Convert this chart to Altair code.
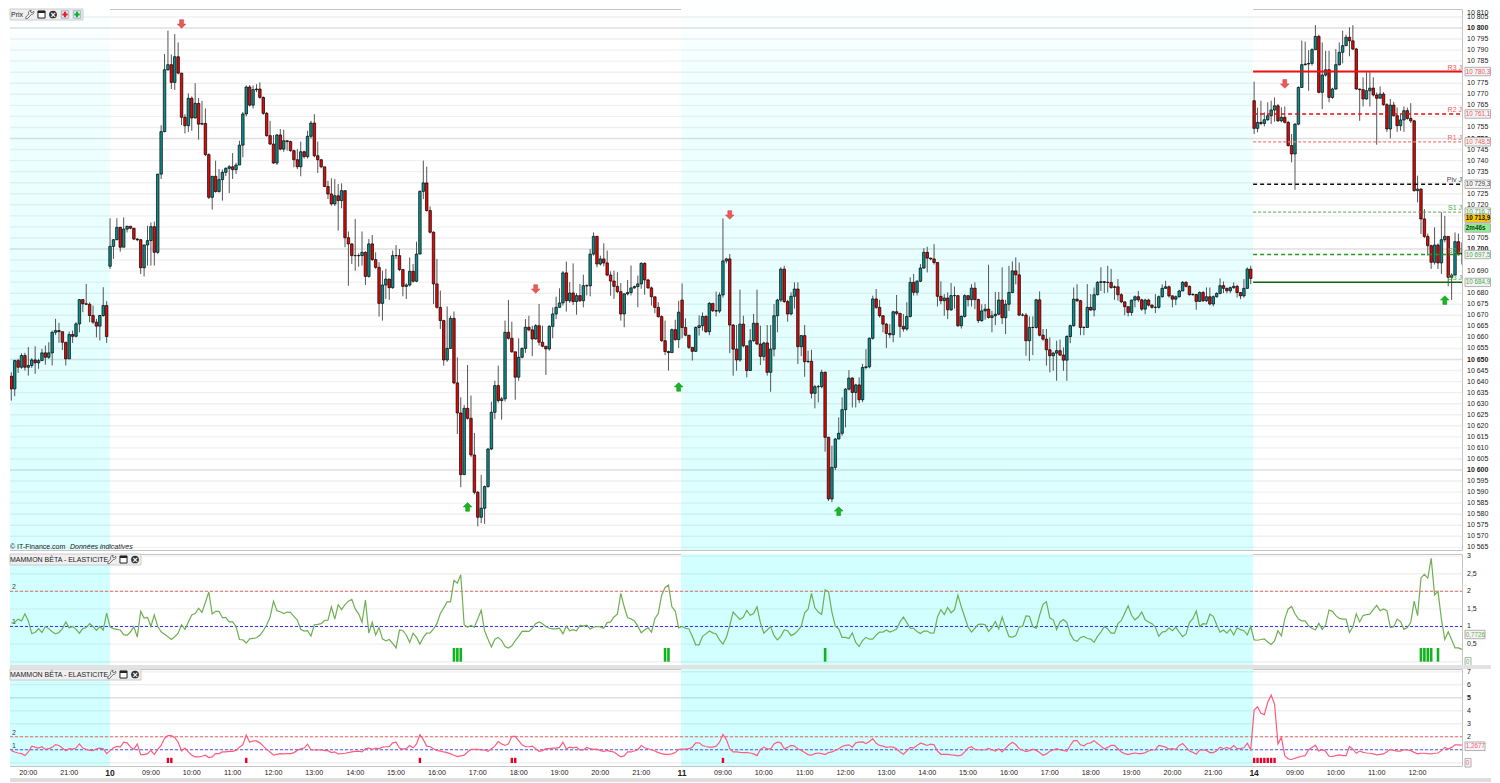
import altair as alt
import pandas as pd

closes = [
10629.9,10642.4,10636.7,10649.5,10646.5,10651.8,10646.5,10647.3,10649.8,10648.5,
10649.5,10653,10651,10653,10662.3,10663.1,10662.6,10657.8,10650.3,10661.3,
10660.5,10666.1,10677.1,10675.2,10675,10669.9,10666.9,10665.1,10669.9,10674.4,
10660.4,10701.2,10704.2,10709.8,10700.8,10709,10710.3,10709.4,10704.5,10704.2,
10691.5,10701.8,10703.8,10710.1,10698.5,10733.9,10753.1,10781.1,10783.4,10775.4,
10787,10779.6,10759.6,10755.8,10768.2,10759.3,10765.9,10756.5,10756.8,10742.7,
10723.4,10732.9,10726,10731.4,10734.7,10736.5,10737.2,10735.9,10738,10747,
10761.1,10773.3,10765.1,10772.1,10772.4,10768.6,10761.4,10751.3,10747.5,10738.9,
10751.6,10745.2,10749,10748.6,10744.5,10740.4,10737.2,10744,10741.8,10751,
10757,10742.2,10740.4,10737.2,10728.3,10724.9,10720.4,10724.1,10721.9,10726.4,
10705.1,10702.3,10697,10697,10697,10698.5,10687.6,10702.3,10695.2,10691.7,
10675.4,10683.7,10686.4,10682.5,10697,10697,10690.7,10683.1,10683.7,10689.9,
10685.4,10697.7,10726.1,10729.9,10717.4,10707.6,10684.2,10673.6,10667.6,10649.8,
10655,10668.6,10639.4,10625.8,10597.9,10627.9,10623.4,10606.8,10589.9,10578.6,
10582.7,10592.5,10609.5,10626.1,10638.2,10631.4,10632.2,10662.3,10659.6,10653.5,
10642,10651,10655,10664.6,10663.4,10659.3,10665.3,10657.8,10656,10654.8,
10665,10670.6,10673.6,10675.6,10689.2,10676.6,10680.1,10676.2,10678.9,10676.6,
10683.4,10683.3,10697.7,10705.7,10693.2,10695.5,10693.7,10688.2,10685.5,10683.1,
10680.7,10670.6,10679.7,10680.3,10682.4,10683,10684.2,10693.5,10686,10682.4,
10678.4,10673.6,10669.4,10658.5,10653.6,10653.1,10663.5,10659,10671.4,10664.5,
10661,10655.5,10653.7,10664.5,10665.3,10669.5,10662.6,10675.4,10672.1,10671.9,
10679.2,10694.6,10695.5,10665.6,10654.7,10649.8,10666,10656.2,10645,10658.5,
10666.4,10657,10651.4,10657.5,10644.2,10654.7,10669.8,10676.9,10690.9,10676.2,
10670.6,10678.6,10681.9,10655.8,10660.8,10649,10649.2,10634.7,10637.7,10637.7,
10644.2,10614.8,10586.9,10601.2,10614,10616.6,10627.3,10636.6,10641.6,10635.1,
10638.5,10631.8,10646.4,10646.7,10659.6,10677.4,10673.6,10669.8,10666,10661.8,
10661.2,10671.6,10670.9,10665,10663.8,10669.5,10684.9,10680.4,10685.4,10691.4,
10698.5,10695.9,10695.5,10693.9,10678.6,10676.6,10677.8,10672.5,10678.9,10678.9,
10665.3,10669.5,10678.9,10677.1,10682.3,10677.1,10667.6,10672,10672.8,10669,
10669.8,10670.5,10676.9,10668.9,10675,10680.3,10690.1,10688.3,10670.1,10670.1,
10658.5,10664.5,10664.5,10677,10661,10659.2,10654.4,10651.7,10652.9,10654,
10652,10649.7,10660.4,10665.3,10677.3,10676.6,10664.5,10664.5,10673.6,10672.4,
10679.3,10684.9,10685.2,10684.9,10684.9,10682.6,10682.9,10679.3,10676.1,10673.9,
10671.3,10676.9,10678.4,10677,10672.8,10676.9,10674.6,10673.6,10673.6,10678.4,
10682.2,10682.9,10678.8,10677.3,10678.4,10681,10684.9,10683.1,10679.3,10679.4,
10676.3,10680.3,10676.6,10678.4,10675.1,10678.4,10679.9,10683.4,10682.2,10681.1,
10682.5,10683.1,10680.3,10678.8,10682.2,10690.9,10686.7,10754.6,10757.3,10756.8,
10758.5,10760.3,10762.9,10764.8,10758,10759.6,10757.3,10746.8,10743,10756.5,
10773.1,10783.4,10783.7,10784,10790.2,10796.2,10770.9,10778.7,10781.1,10768.6,
10772.4,10783.4,10789,10792,10795.8,10794.2,10790.5,10772.4,10772.1,10767.9,
10771.6,10772.8,10769.7,10768.2,10770.1,10765.3,10754.3,10765.1,10760.3,10755.8,
10758.4,10762.6,10759.1,10758,10726.4,10727.1,10713.6,10705.7,10701.5,10694,
10701.8,10693.7,10704.2,10705.7,10687.2,10688.2,10703.3,10697.7,10698]

highs = [
10633.7,10642.6,10644.2,10649.9,10650.3,10652.8,10653,10655.6,10650.6,10656,
10650.3,10654.8,10656.3,10657.8,10663.1,10668.4,10666.6,10662.3,10657.5,10662.6,
10663.1,10666.9,10677.4,10677.1,10684.2,10675.9,10674.4,10668.4,10670.2,10682.7,
10676.4,10713.9,10704.5,10713.9,10710,10714.3,10710.5,10710,10709.5,10705,
10704.5,10702,10710.5,10712,10712.4,10734,10756,10788.2,10798.8,10788,
10797.3,10793.5,10779.5,10761,10770.4,10769,10775,10768.3,10767,10763.6,
10743.3,10733,10740,10736.2,10736,10737,10738,10743.4,10739,10749,
10762,10774,10774.2,10774,10774.6,10775.4,10769,10762,10758,10751.6,
10752,10754.3,10754,10749,10749,10745,10745.2,10748.6,10744.5,10753.5,
10758,10761,10748.6,10740.5,10737,10730.9,10732,10731.7,10729.4,10729.7,
10726.5,10707.9,10702.5,10713.6,10698,10707.9,10699,10704.5,10706.3,10698.5,
10694,10690.2,10691,10686.5,10699.3,10701.8,10700,10691,10684.5,10696.2,
10693.2,10703.3,10726.5,10740,10737.3,10719.3,10708,10695.5,10681.2,10668,
10674,10669.8,10671.7,10651,10632.9,10629.4,10647.5,10633.7,10616.8,10590.5,
10597.8,10593,10610,10630.9,10640.4,10647.2,10633,10667.6,10676.9,10667.1,
10653,10659.6,10655.5,10668.3,10669.8,10665.3,10666,10675.1,10665.3,10655.5,
10665.5,10673.6,10678.4,10682.2,10690,10694.3,10685,10693.5,10680,10684.2,
10688.4,10684,10700,10707.5,10706,10697,10702.6,10699.3,10689.9,10690.2,
10689.5,10684.6,10680,10686,10692.5,10683.5,10688,10694,10694,10686.5,
10683,10678,10675.9,10670,10667.6,10654,10664,10668,10676.6,10684.4,
10668.6,10661,10655.5,10665,10670,10671.3,10670,10676,10672.6,10680.7,
10680.4,10713.9,10696,10697.7,10666,10665.6,10681.6,10669.8,10653,10663.8,
10670.6,10681.6,10665.3,10658,10665.6,10665.6,10675.1,10677.5,10691.7,10692.4,
10677,10680.4,10684.9,10684.9,10661,10665.6,10654,10654.4,10638.5,10638.5,
10645.4,10644.6,10615,10611,10614.5,10623.8,10632.9,10637,10645.2,10642,
10639,10641.9,10648,10654.7,10660,10678.9,10681.9,10677,10670,10666.5,
10666,10672,10679.2,10670.5,10670.6,10675.9,10687.2,10688.7,10686,10693.2,
10700.4,10701,10696,10702.2,10694,10685.4,10679.6,10680.4,10684.6,10683,
10679,10670,10679.5,10678,10684.1,10684.9,10677.5,10675,10675.1,10692.9,
10672,10680.6,10680.6,10691.7,10677,10692.4,10694.4,10696.2,10693.9,10671,
10671,10669.5,10669.5,10677.5,10680.8,10663.8,10663.8,10660,10653.5,10658.5,
10659,10655.5,10661,10665.8,10682.6,10684.1,10677,10665,10684.1,10679.6,
10682.6,10685.5,10691.7,10685.5,10692.4,10691,10683.5,10686.4,10680,10676,
10674,10677,10679,10681,10677.5,10677.5,10677.5,10675,10679.6,10679,
10684,10685.6,10683.5,10679,10679,10681.5,10685.5,10685.5,10683.5,10680,
10679.5,10680.8,10681,10682.6,10682.6,10679,10680.4,10686.7,10685.3,10682.5,
10683,10684.9,10683.8,10680.5,10686.4,10691.7,10692.4,10775.7,10764,10767.1,
10761.8,10766.4,10767.1,10768.6,10765.6,10764.1,10764.5,10758,10752,10757,
10773.6,10794.3,10793.8,10790,10790.8,10801.3,10797,10793.5,10789.7,10789.7,
10773,10790.5,10793.5,10798.8,10797,10800.3,10801.3,10791,10772.5,10777.7,
10780,10780,10777.7,10770.8,10773.6,10771,10766,10767.9,10766.6,10764,
10761,10764.5,10764,10766,10758.5,10733.2,10727.5,10718.1,10707,10702,
10709.8,10702.5,10716.6,10715,10705.5,10689,10707.5,10707,10703]

lows = [
10623.9,10626.9,10631.4,10633.4,10643.9,10645.8,10645,10642.7,10646.2,10643.5,
10645.8,10649.5,10647.7,10650.3,10647.3,10661.1,10657.5,10654.3,10647.3,10650.6,
10657.5,10660,10662.3,10671.4,10674.7,10666.9,10666.1,10660,10658.6,10669.4,
10657.5,10691,10695.5,10704,10698.8,10701,10707.5,10709,10704,10703.5,
10688.7,10687.6,10692.5,10692.5,10692.5,10697.7,10731.7,10752.8,10780.7,10772.4,
10772,10779,10756.1,10752.3,10753,10753.5,10759,10749.5,10756,10742,
10722.6,10717.8,10725.5,10725.5,10721.9,10733,10725.3,10731.7,10734,10738,
10741.5,10760,10764.5,10763.6,10771,10768,10760.7,10750.8,10747,10738.5,
10738,10744.7,10744,10744.5,10744,10737,10736.2,10732.9,10741,10741,
10750,10741.5,10734.4,10736.5,10728,10722.6,10719.6,10719.5,10708.3,10718.4,
10700.8,10683.4,10693.2,10690.2,10692,10692.5,10683.7,10687,10694.6,10691,
10669.4,10667.6,10677.4,10677,10682,10695.5,10690,10678.6,10677.4,10683,
10684.8,10685,10697.8,10722.6,10717,10707,10675.1,10673,10663.8,10647.2,
10649,10655,10638.8,10616.3,10592.2,10598,10622.8,10605.8,10589,10574.5,
10576,10575.6,10592,10609,10623,10630.5,10622.8,10631,10659,10653,
10631.8,10640.4,10650.5,10653,10662.7,10651.5,10659,10656.3,10655.5,10643,
10654,10659.6,10668.3,10673.5,10674.4,10671.7,10675.6,10674.7,10670.3,10676,
10673.6,10679,10678.6,10697,10691.7,10692.5,10692.2,10687.7,10678.9,10677.4,
10680,10667.6,10664.6,10679,10679,10682,10673.6,10682,10679.3,10682,
10674.4,10671,10669,10658,10652,10645,10653,10658.5,10655.2,10659.6,
10660.5,10654.7,10649.5,10653.5,10660.8,10663,10662,10661,10671.5,10669.5,
10671,10678,10693.5,10652.9,10642.7,10644.9,10649,10655.5,10641.9,10645,
10658,10656.5,10647.5,10649.5,10642.7,10635.4,10651.4,10662.3,10676,10675.6,
10667.1,10670,10673,10648,10651.5,10642.2,10648.5,10632.4,10627.9,10630.6,
10637,10608.3,10586,10585.4,10600,10614,10615.5,10619.3,10636,10628.3,
10628.3,10630.3,10630.7,10645.5,10646,10659,10672.9,10669,10662.3,10655.2,
10659.6,10657.8,10670,10660,10662.6,10663,10669,10678.9,10679,10685,
10691,10689.4,10695,10693,10674,10675,10669.8,10668.3,10672,10673,
10664.7,10664,10669,10674,10674,10672.8,10666.5,10667,10668,10668.5,
10662.3,10665.6,10670,10666,10661.5,10672,10680,10684,10669.6,10669.5,
10651.7,10649.4,10652,10664,10660.5,10658.5,10647.2,10644.2,10644.9,10640.4,
10651.5,10644.9,10640.4,10657.4,10664.8,10676,10661,10661,10665,10672,
10669.5,10679,10681,10680,10680.3,10682,10677,10676.6,10675.5,10670,
10669.5,10669.8,10673.6,10676,10672,10670.5,10674,10673,10671,10673,
10678,10682,10678,10673.6,10674.6,10678,10681,10682.6,10679,10678.9,
10672.5,10676,10676,10676,10674.5,10674,10678,10679.5,10680,10680,
10680,10682,10678,10677.3,10678,10682,10684.1,10752,10752.8,10756,
10755.5,10758,10756.5,10757.6,10757.5,10757.3,10756.8,10746.3,10739.2,10726.8,
10756,10773,10783,10771.6,10783,10790,10770.4,10763.3,10778,10766.4,
10768,10772,10783,10784,10792,10787.2,10790,10772,10758,10764.5,
10767.5,10764.5,10769,10747.2,10769,10764.8,10753,10750,10760,10753,
10753.5,10753,10758.5,10757,10726,10721.1,10706.8,10705,10697,10691,
10693,10691,10688.7,10703,10683.1,10677,10688,10697,10693]

# Opening prices that do not follow the previous close (first bar, new sessions)
first_opens = {0: 10628.4, 31: 10692.2, 199: 10676.9, 367: 10767.1}

elast_green = [
1.21,.97,1.10,1.12,1.21,1.16,1.36,1.16,.80,.83,
.94,.83,1.00,.94,.85,.79,.83,.94,1.13,.96,
1.00,.92,.81,.94,.97,1.08,1.00,.89,1.00,.90,
1.38,.99,.94,.92,.90,.77,.75,.85,.99,.70,
1.43,1.24,1.26,1.00,1.33,1.00,.85,.78,.71,.63,
.71,.81,1.05,.92,1.13,1.33,1.37,1.52,1.40,1.69,
1.98,1.36,1.43,1.43,1.25,1.25,1.13,1.13,1.00,.63,
.62,.53,.65,.66,.68,.75,.88,1.04,1.26,1.72,
1.45,1.42,1.37,1.41,1.40,1.29,1.18,.92,.87,.88,
.73,1.05,1.06,1.08,1.17,1.18,1.56,1.21,1.62,1.48,
1.62,1.72,1.77,1.50,1.36,1.12,1.75,.81,1.12,.76,
.97,.65,.59,.63,.52,.39,.90,.88,.76,.55,
.81,.69,.50,.69,.81,.82,.93,1.08,1.37,1.53,
1.70,1.70,2.31,2.23,2.47,1.05,.98,1.03,.98,1.22,
1.46,.88,.64,.42,.64,.69,.60,.43,.39,.45,
.60,.72,.86,.87,.86,.95,1.08,1.13,1.08,1.00,
.95,.93,.93,.95,.79,1.01,.88,.91,.88,1.03,
1.01,1.04,.93,.98,1.00,.99,.95,1.11,1.13,1.27,
1.35,1.94,1.56,1.25,1.22,1.16,1.01,.82,.90,.97,
.84,1.22,1.37,1.89,2.11,2.18,1.56,1.44,.96,1.00,
.95,.93,.72,.48,.48,.72,.79,.87,.82,.79,
.62,.50,.69,1.03,1.41,1.30,1.20,1.27,1.46,1.32,
1.37,1.56,1.11,.81,.90,1.00,.74,.62,.72,.90,
.88,.74,.79,.88,1.01,1.39,1.49,1.94,1.53,1.41,
1.34,2.04,1.99,1.41,1.01,.93,.69,.69,.66,.82,
.55,.43,.60,.69,.64,.64,.76,.84,.84,.90,
.84,.88,.93,1.13,1.27,1.11,.95,.95,.86,.80,
.87,.87,.81,.82,1.27,1.48,1.34,1.54,1.39,1.48,
1.89,1.56,1.27,.98,.84,.95,1.06,1.07,1.05,.86,
.97,1.14,.93,1.27,.98,.71,.70,.74,.98,1.01,
1.30,1.29,1.00,.95,1.32,1.63,1.70,1.24,1.19,.91,
1.13,1.20,1.11,.79,.62,.58,.69,.72,.66,.64,
.55,.72,.84,1.00,.93,.81,.81,1.08,1.17,1.38,
1.59,1.32,1.19,1.27,1.41,1.19,1.13,1.08,.98,.72,
.84,.86,.96,.88,.98,.84,.71,.79,1.11,1.22,
1.44,1.00,1.08,1.07,1.35,1.29,1.05,.84,.90,.81,
.93,.76,.96,.91,.88,.76,1.00,.62,.61,.63,
.65,.56,.49,.59,.88,.73,1.21,1.50,1.57,1.36,
1.21,1.16,1.16,1.02,.95,.90,1.09,.92,1.04,1.47,
1.43,1.31,1.23,1.21,1.21,.83,.99,1.36,1.13,1.31,
1.34,1.35,1.48,1.60,1.45,1.50,1.45,.97,.99,1.21,
1.14,.92,.97,1.12,1.72,1.31,2.38,2.48,2.37,2.94,
1.90,2.00,1.21,.63,.85,.63,.39,.39,.35]

elast_red = [
.88,1.08,.93,.83,.75,.70,.55,.83,1.28,1.20,
1.13,1.23,1.03,1.08,1.20,1.40,1.33,1.13,.93,1.08,
1.05,1.13,1.45,1.13,1.03,.95,.93,1.08,1.13,1.08,
.70,.93,1.15,1.25,1.20,1.58,1.53,1.20,1.03,1.45,
.63,.63,.70,.95,.63,1.03,1.33,1.88,2.08,2.08,
1.95,1.58,.90,1.13,.83,.58,.45,.45,.50,.58,
.40,.45,.70,.70,.83,.83,.88,.88,.95,1.20,
1.38,2.13,1.58,1.68,1.68,1.53,1.28,1.03,.83,.58,
.65,.70,.68,.70,.70,.78,.95,1.08,1.13,1.43,
1.00,.98,.98,1.00,.93,.93,.78,.83,.68,.70,
.73,.78,.83,.88,.90,.83,1.08,1.13,1.03,1.13,
1.08,1.20,1.23,1.23,1.53,1.58,1.13,1.05,1.08,1.33,
1.15,1.45,2.15,1.78,1.28,1.23,1.08,.95,.90,.83,
.78,.68,.58,.48,.53,.58,.83,1.03,1.03,1.03,
.98,.98,.88,1.08,1.28,1.63,1.45,1.33,1.45,2.03,
2.03,1.70,1.38,1.23,1.23,1.28,1.08,.88,.93,1.08,
1.08,1.13,1.13,1.18,1.58,1.08,1.20,1.15,1.20,.98,
.98,1.18,1.08,1.03,1.05,.93,.88,.95,.88,.83,
.63,.45,.53,.83,.83,.90,1.00,1.33,1.15,1.08,
1.00,.90,.78,.70,.65,.65,.68,.78,1.03,1.05,
1.05,1.08,1.20,1.53,1.53,1.33,1.25,1.20,1.20,1.28,
1.58,2.18,1.78,1.08,.83,.83,.80,.78,.78,.75,
.68,.55,1.03,1.20,1.08,1.05,1.45,1.58,1.53,1.08,
1.18,1.33,1.28,1.08,.95,.78,.63,.58,.70,.75,
.70,.63,.78,.83,.95,1.08,1.25,1.33,1.38,1.20,
1.53,1.58,1.60,1.48,1.63,1.85,1.50,1.33,1.28,1.18,
1.23,1.20,1.08,.83,.65,.90,1.18,1.13,1.33,1.50,
1.43,1.33,1.43,1.38,.90,.65,.65,.65,.60,.58,
.53,.58,.83,1.13,1.23,1.03,1.00,.98,1.00,1.10,
1.00,.90,1.08,.83,1.13,1.38,1.58,1.40,1.08,.98,
.85,.93,1.05,.95,.78,.58,.68,.88,.98,1.08,
1.00,.93,.90,1.33,1.70,1.70,1.38,1.30,1.48,1.53,
1.70,1.48,1.28,1.08,1.18,1.33,1.33,1.08,.83,.70,
.63,.70,.75,.70,.70,.78,.90,.98,1.00,1.33,
1.28,1.20,1.05,1.08,1.03,1.33,1.48,1.20,.90,.80,
.65,.98,.98,.95,.78,.78,.93,1.20,1.08,1.18,
1.08,1.33,1.08,1.10,1.15,1.50,1.00,4.05,4.30,3.80,
3.70,4.65,5.20,4.50,1.45,1.95,.55,.30,.25,.35,
.43,.50,.55,1.00,1.18,1.35,.90,1.00,.88,.50,
.48,.55,.60,.55,.55,1.25,1.05,.73,.90,.80,
.75,.73,.68,.60,.65,.68,.85,1.03,.95,.90,
.90,1.00,.98,.93,.80,.68,.73,.73,.70,.68,
.73,.75,.93,1.18,1.05,1.18,1.38,1.38,1.35]

arrows_up_idx = [136, 198, 245, 423]
arrows_up_price = [10583.3, 10637.6, 10581.4, 10676.9]
arrows_down_idx = [52, 156, 213, 376]
arrows_down_price = [10801.8, 10681.9, 10715.4, 10774.7]

green_flags = [132, 133, 134, 194, 195, 241, 416, 417, 418, 419, 421]
red_flags = [48, 49, 71, 122, 149, 150, 211, 367, 368, 369, 370, 371, 372, 373]

time_ticks = [7, 19, 31] + list(range(43, 188, 12)) + [199] + list(range(211, 356, 12)) + [367, 379, 391, 403, 415]
hours = ["%02d:00" % h for h in range(9, 22)]
time_labels = ["20:00", "21:00", "10"] + hours + ["11"] + hours + ["14", "09:00", "10:00", "11:00", "12:00"]

pivot_names = ["R3 J", "R2 J", "R1 J", "Piv J", "S1 J", "S2 J", "S3 J"]
pivot_values = [10780.3, 10761.1, 10748.5, 10729.3, 10716.7, 10697.5, 10684.9]
pivot_text = ["10 780,3", "10 761,1", "10 748,5", "10 729,3", "10 716,7", "10 697,5", "10 684,9"]
pivot_colors = ["#ee1111", "#dd1111", "#ff7777", "#111111", "#55aa55", "#229922", "#116611"]
pivot_label_colors = ["#ee5555", "#ee5555", "#ee6666", "#444444", "#44aa44", "#44aa44", "#44aa44"]
pivot_widths = [2, 1.5, 1.2, 1.6, 1, 1.6, 1.5]
pivot_dash = [[1, 0], [4, 3], [3, 2], [4, 3], [3, 2], [4, 3], [1, 0]]
pivot_start = 366.7
# price-axis labels that the reference's value boxes cover completely
hidden_price_labels = [10780, 10760, 10730, 10715, 10710, 10695, 10685]

FONT = "Liberation Sans"
FS = 7.2
W = 1452
RIGHT = 29  # room for the value labels right of the plot area
H1, H2, H3 = 541, 111, 97
xmin, xmax = 1.615, 428.05
xs = alt.Scale(domain=[xmin, xmax], nice=False, zero=False, padding=0)
ys1 = alt.Scale(domain=[10563.8, 10808.6], nice=False, zero=False, padding=0)
ys2 = alt.Scale(domain=[-0.094, 3.06], nice=False, zero=False, padding=0)
ys3 = alt.Scale(domain=[-0.25, 7.21], nice=False, zero=False, padding=0)

opens = [first_opens.get(i, closes[i - 1] if i else closes[0]) for i in range(len(closes))]
candles = pd.DataFrame({"i": range(len(closes)), "o": opens, "c": closes, "h": highs, "l": lows})
candles["dir"] = ["up" if c >= o else "down" for o, c in zip(opens, closes)]
candles = candles[candles.i >= 2]  # the first bars fall left of the visible page area
lines = pd.DataFrame({"i": range(len(elast_green)), "g": elast_green, "r": elast_red})
lines = lines[lines.i >= 2]
one = pd.DataFrame({"a": [0]})

def X(f):
    return alt.X(f, scale=xs, axis=None, title=None)

def band_layers(height, fill):
    bands = pd.DataFrame({"a": [xmin, 198.7], "b": [31.0, pivot_start]})
    return alt.Chart(bands).mark_rect(color=fill).encode(
        x=X("a:Q"), x2="b:Q", y=alt.value(0), y2=alt.value(height))

def grid_layers(ticks, major, ys):
    out = [alt.Chart(pd.DataFrame({"v": ticks})).mark_rule(color="#808080", opacity=0.12, strokeWidth=1.4).encode(
        y=alt.Y("v:Q", scale=ys, axis=None), x=alt.value(0), x2=alt.value(W))]
    if major:
        out.append(alt.Chart(pd.DataFrame({"v": major})).mark_rule(color="#808080", opacity=0.14, strokeWidth=1.4).encode(
            y=alt.Y("v:Q", scale=ys, axis=None), x=alt.value(0), x2=alt.value(W)))
    return out

def tick_text_layers(values, labels, bold, ys):
    df = pd.DataFrame({"v": values, "t": labels})
    df["b"] = [v in bold for v in values]
    out = []
    for flag, weight in [(False, "normal"), (True, "bold")]:
        sub = df[df.b == flag]
        if len(sub):
            out.append(alt.Chart(sub).mark_text(align="left", baseline="middle", font=FONT, fontSize=FS - 0.2,
                                                fontWeight=weight, color="#222").encode(
                x=alt.value(W + 5), y=alt.Y("v:Q", scale=ys, axis=None), text="t:N"))
    return out

def box_layers(rows, half, ys, width=25.5):
    df = pd.DataFrame(rows, columns=["v", "t", "fill", "tc", "w"])
    df["lo"] = df.v - half
    df["hi"] = df.v + half
    out = [alt.Chart(df).mark_rect(stroke="#b0b0b0", strokeWidth=1).encode(
        y=alt.Y("lo:Q", scale=ys, axis=None), y2="hi:Q", x=alt.value(W + 3), x2=alt.value(W + 3 + width),
        fill=alt.Fill("fill:N", scale=None))]
    for weight in df.w.unique():
        out.append(alt.Chart(df[df.w == weight]).mark_text(
            align="left", baseline="middle", font=FONT, fontSize=6.3, fontWeight=weight).encode(
            y=alt.Y("v:Q", scale=ys, axis=None), x=alt.value(W + 3.8), text="t:N",
            color=alt.Color("tc:N", scale=None)))
    return out

def icons(x0, y0=5.5):
    """wrench, window, close: little header icons"""
    out = []
    wrench = "M-1,1 L-0.6,1 L0.3,0 C0.8,0.1 1,-0.4 0.9,-0.8 L0.5,-0.4 L0.1,-0.6 L0.3,-1 C-0.3,-1 -0.5,-0.5 -0.3,-0.1 L-1,0.6 Z"
    out.append(alt.Chart(one).mark_point(shape=wrench, size=70, filled=False, stroke="#555", strokeWidth=0.8, opacity=1)
               .encode(x=alt.value(x0), y=alt.value(y0)))
    out.append(alt.Chart(one).mark_square(size=50, fill="#fff", stroke="#222", strokeWidth=1, opacity=1)
               .encode(x=alt.value(x0 + 11.5), y=alt.value(y0)))
    out.append(alt.Chart(one).mark_rule(color="#222", strokeWidth=2).encode(
        x=alt.value(x0 + 8), x2=alt.value(x0 + 15), y=alt.value(y0 - 2.5)))
    out.append(alt.Chart(one).mark_circle(size=60, color="#333", opacity=1)
               .encode(x=alt.value(x0 + 23), y=alt.value(y0)))
    out.append(alt.Chart(one).mark_text(text="×", color="#fff", font=FONT, fontSize=9, fontWeight="bold", baseline="middle")
               .encode(x=alt.value(x0 + 23), y=alt.value(y0)))
    return out

def header(label, text_x, x_icons, box_w):
    box = alt.Chart(one).mark_rect(fill="#efefef", stroke="#cccccc", strokeWidth=1).encode(
        x=alt.value(0), x2=alt.value(box_w), y=alt.value(0), y2=alt.value(11))
    txt = alt.Chart(one).mark_text(text=label, align="left", baseline="middle", font=FONT, fontSize=7, color="#222").encode(
        x=alt.value(text_x), y=alt.value(5.8))
    return [box, txt] + icons(x_icons)

# ---------- price panel
price_ticks = list(range(10565, 10810, 5))
label_ticks = [p for p in price_ticks if p not in hidden_price_labels]
price_labels = ["%d %03d" % (p // 1000, p % 1000) for p in label_ticks]
price_major = [10600, 10650, 10700, 10750, 10800]
grad = alt.Gradient(gradient="linear",
                    stops=[alt.GradientStop(color="#ffffff", offset=0),
                           alt.GradientStop(color="#f2ffff", offset=0.1),
                           alt.GradientStop(color="#daffff", offset=1)],
                    x1=1, x2=1, y1=0, y2=1)
layers1 = [band_layers(H1, grad)]
layers1 += grid_layers(price_ticks, price_major, ys1)
layers1 += tick_text_layers(label_ticks, price_labels, price_major, ys1)
layers1.append(alt.Chart(candles).mark_rule(color="#555555", strokeWidth=1, clip=True).encode(
    x=X("i:Q"), y=alt.Y("l:Q", scale=ys1, axis=None), y2="h:Q"))
layers1.append(alt.Chart(candles).mark_bar(size=2.5, stroke="#000000", strokeWidth=0.7, clip=True).encode(
    x=X("i:Q"), y=alt.Y("o:Q", scale=ys1, axis=None), y2="c:Q",
    color=alt.Color("dir:N", scale=alt.Scale(domain=["up", "down"], range=["#0e8f8f", "#e60808"]), legend=None)))
for n, v, col, wd, dash in zip(pivot_names, pivot_values, pivot_colors, pivot_widths, pivot_dash):
    d = pd.DataFrame({"v": [v], "a": [pivot_start], "b": [xmax]})
    layers1.append(alt.Chart(d).mark_rule(color=col, strokeWidth=wd, strokeDash=dash).encode(
        x=X("a:Q"), x2="b:Q", y=alt.Y("v:Q", scale=ys1, axis=None)))
piv = pd.DataFrame({"v": pivot_values, "n": pivot_names, "c": pivot_label_colors})
layers1.append(alt.Chart(piv).mark_text(align="right", baseline="bottom", dy=-1, font=FONT, fontSize=7).encode(
    x=alt.value(W), y=alt.Y("v:Q", scale=ys1, axis=None), text="n:N", color=alt.Color("c:N", scale=None)))
UP = "M0,-1 L1,0 L0.45,0 L0.45,1 L-0.45,1 L-0.45,0 L-1,0 Z"
DOWN = "M0,1 L1,0 L0.45,0 L0.45,-1 L-0.45,-1 L-0.45,0 L-1,0 Z"
layers1.append(alt.Chart(pd.DataFrame({"i": arrows_up_idx, "p": arrows_up_price})).mark_point(
    shape=UP, size=75, filled=True, color="#16b81e", stroke="#0d8a12", strokeWidth=0.5, opacity=1).encode(
    x=X("i:Q"), y=alt.Y("p:Q", scale=ys1, axis=None)))
layers1.append(alt.Chart(pd.DataFrame({"i": arrows_down_idx, "p": arrows_down_price})).mark_point(
    shape=DOWN, size=75, filled=True, color="#ea5a5a", stroke="#c43c3c", strokeWidth=0.5, opacity=1).encode(
    x=X("i:Q"), y=alt.Y("p:Q", scale=ys1, axis=None)))
rows1 = [(v, t, "#f4f4f4", c, "normal") for v, t, c in zip(pivot_values, pivot_text, pivot_label_colors)]
rows1 += [(10713.9, "10 713,9", "#ffc800", "#111111", "bold"), (10709.5, "2m46s", "#8fee8f", "#114411", "bold")]
layers1 += box_layers(rows1, 1.9, ys1)
layers1.append(alt.Chart(one).mark_text(text="10 810", align="left", baseline="top", font=FONT, fontSize=FS - 0.2, color="#222").encode(
    x=alt.value(W + 5), y=alt.value(0)))
box = alt.Chart(one).mark_rect(fill="#efefef", stroke="#cccccc", strokeWidth=1).encode(
    x=alt.value(0), x2=alt.value(73), y=alt.value(0), y2=alt.value(11))
prix = alt.Chart(one).mark_text(text="Prix", align="left", baseline="middle", font=FONT, fontSize=7, color="#222").encode(
    x=alt.value(1), y=alt.value(5.8))
plus_icons = []
for dx, c in [(55, "#e82020"), (67, "#10b020")]:
    plus_icons.append(alt.Chart(one).mark_square(size=55, fill="#dfe8f5", stroke="#8899bb", strokeWidth=0.7, opacity=1).encode(
        x=alt.value(dx), y=alt.value(5.5)))
    plus_icons.append(alt.Chart(one).mark_point(shape="cross", size=28, filled=True, color=c, opacity=1).encode(
        x=alt.value(dx), y=alt.value(5.5)))
layers1 += [box, prix] + icons(20) + plus_icons
layers1.append(alt.Chart(one).mark_text(text="© IT-Finance.com", align="left", baseline="middle", font=FONT, fontSize=7, color="#222").encode(
    x=alt.value(0), y=alt.value(H1 - 3)))
layers1.append(alt.Chart(one).mark_text(text="Données indicatives", align="left", baseline="middle", font=FONT, fontSize=7, fontStyle="italic", color="#222").encode(
    x=alt.value(60), y=alt.value(H1 - 3)))
p1 = alt.layer(*layers1).properties(width=W, height=H1)

# ---------- indicator panels
def level_layers(ys, blue):
    out = []
    for v, c in [(2, "#e86a6a"), (1, blue)]:
        d = pd.DataFrame({"v": [v]})
        out.append(alt.Chart(d).mark_rule(color=c, strokeWidth=1, strokeDash=[3, 2]).encode(
            x=alt.value(0), x2=alt.value(W), y=alt.Y("v:Q", scale=ys, axis=None)))
        out.append(alt.Chart(d).mark_text(text=str(v), align="left", baseline="bottom", dy=-1, font=FONT, fontSize=7, color="#444").encode(
            x=alt.value(2), y=alt.Y("v:Q", scale=ys, axis=None)))
    return out

ticks2 = [0, 0.5, 1, 1.5, 2, 2.5, 3]
labels2 = ["0,5", "1", "1,5", "2", "2,5", "3"]
layers2 = [band_layers(H2, "#d2ffff")]
layers2 += grid_layers(ticks2, [], ys2)
layers2 += tick_text_layers(ticks2[1:], labels2, [], ys2)
layers2 += level_layers(ys2, "#3333ee")
flags_g = pd.DataFrame({"i": green_flags, "a": [0] * len(green_flags), "b": [0.39] * len(green_flags)})
layers2.append(alt.Chart(flags_g).mark_bar(size=2.6, color="#10b41c").encode(
    x=X("i:Q"), y=alt.Y("a:Q", scale=ys2, axis=None), y2="b:Q"))
layers2.append(alt.Chart(lines).mark_line(color="#6fb052", strokeWidth=1.2, clip=True).encode(
    x=X("i:Q"), y=alt.Y("g:Q", scale=ys2, axis=None)))
layers2 += box_layers([(0.7726, "0,7726", "#f4f4f4", "#6fb052", "normal")], 0.12, ys2, width=20)
layers2 += box_layers([(0, "0", "#f4f4f4", "#55cc55", "normal")], 0.12, ys2, width=6)
layers2 += header("MAMMON BÊTA - ELASTICITE", 0, 102, 131)
p2 = alt.layer(*layers2).properties(width=W, height=H2)

ticks3 = [0, 1, 2, 3, 4, 5, 6, 7]
labels3 = ["2", "3", "4", "5", "6", "7"]
layers3 = [band_layers(H3, "#d2ffff")]
layers3 += grid_layers(ticks3, [5], ys3)
layers3 += tick_text_layers(ticks3[2:], labels3, [5], ys3)
layers3 += level_layers(ys3, "#5555ee")
flags_r = pd.DataFrame({"i": red_flags, "a": [-0.02] * len(red_flags), "b": [0.38] * len(red_flags)})
layers3.append(alt.Chart(flags_r).mark_bar(size=2.4, color="#e8002a").encode(
    x=X("i:Q"), y=alt.Y("a:Q", scale=ys3, axis=None), y2="b:Q"))
layers3.append(alt.Chart(lines).mark_line(color="#ff5c7c", strokeWidth=1.2, clip=True).encode(
    x=X("i:Q"), y=alt.Y("r:Q", scale=ys3, axis=None)))
layers3 += box_layers([(1.2677, "1,2677", "#f4f4f4", "#ff5c7c", "normal")], 0.33, ys3, width=20)
layers3 += box_layers([(0, "0", "#f4f4f4", "#ff5c7c", "normal")], 0.33, ys3, width=6)
layers3 += header("MAMMON BÊTA - ELASTICITE", 0, 102, 131)
tick_df = pd.DataFrame({"i": time_ticks, "t": time_labels})
for is_day, weight, fs in [(False, "normal", FS), (True, "bold", 8.5)]:
    sub = tick_df[[(len(t) == 2) == is_day for t in tick_df.t]]
    layers3.append(alt.Chart(sub).mark_text(baseline="middle", font=FONT, color="#222", fontWeight=weight, fontSize=fs).encode(
        x=X("i:Q"), y=alt.value(H3 + 7), text="t:N"))
layers3.append(alt.Chart(one).mark_rect(color="#e2e2e2").encode(
    x=alt.value(0), x2=alt.value(W + RIGHT), y=alt.value(-4), y2=alt.value(0)))
layers3.append(alt.Chart(one).mark_rect(color="#dddddd").encode(
    x=alt.value(0), x2=alt.value(W + RIGHT), y=alt.value(H3 + 12), y2=alt.value(H3 + 16)))
p3 = alt.layer(*layers3).properties(width=W, height=H3)

chart = alt.vconcat(p1, p2, p3, spacing=4, bounds="flush").properties(padding=0).configure_view(
    stroke="#c4c4c4", strokeWidth=1)
chart.save("out.html", embed_options={"renderer": "svg", "actions": False})
